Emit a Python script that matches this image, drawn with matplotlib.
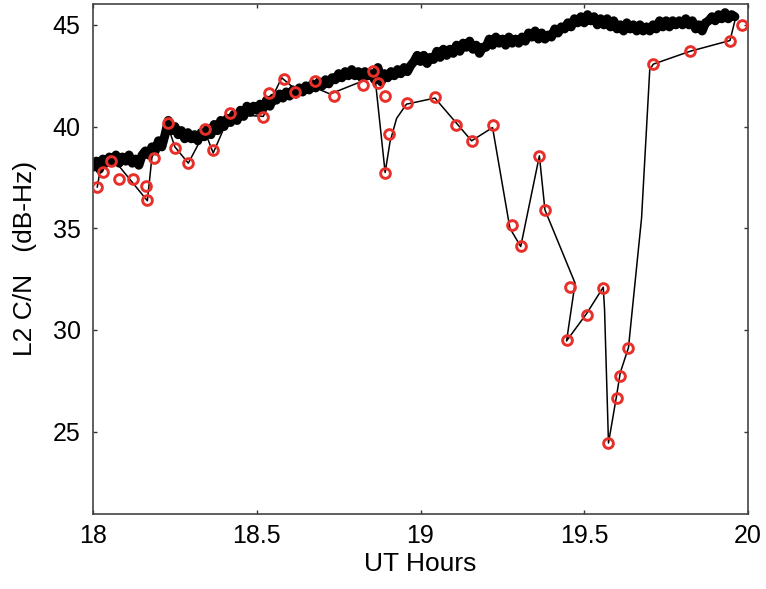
import numpy as np
import matplotlib
matplotlib.use("Agg")
import matplotlib.pyplot as plt

plt.rcParams['font.family'] = ['Liberation Sans', 'DejaVu Sans']

# Dense C/N record (black band), sampled every 0.01 h from 18.00 h
band_start, band_end = 18.00, 19.96
band_y = [
    38.0, 38.3, 37.9, 38.4, 38.2, 38.5, 38.3, 38.6, 38.2, 38.5,
    38.3, 38.6, 38.2, 38.4, 38.1, 38.6, 38.8, 38.6, 39.0, 38.8,
    39.3, 39.0, 39.6, 40.3, 39.8, 40.0, 39.6, 39.8, 39.4, 39.7,
    39.4, 39.6, 39.3, 39.7, 39.5, 39.9, 39.6, 40.1, 39.8, 40.3,
    40.0, 40.4, 40.2, 40.6, 40.3, 40.8, 40.5, 41.0, 40.7, 41.0,
    40.8, 41.1, 40.9, 41.3, 41.0, 41.4, 41.3, 41.6, 41.4, 41.7,
    41.5, 41.8, 41.6, 41.9, 41.7, 42.0, 41.8, 42.1, 41.9, 42.2,
    42.0, 42.3, 42.1, 42.4, 42.3, 42.6, 42.4, 42.7, 42.5, 42.8,
    42.5, 42.7, 42.4, 42.7, 42.5, 42.6, 42.3, 42.9, 42.2, 42.6,
    42.4, 42.7, 42.5, 42.8, 42.6, 42.9, 42.7, 43.0, 43.2, 43.5,
    43.2, 43.5, 43.1, 43.4, 43.3, 43.7, 43.4, 43.8, 43.5, 43.8,
    43.6, 44.0, 43.7, 44.1, 43.9, 44.2, 43.8, 44.0, 43.6, 43.9,
    43.9, 44.3, 44.0, 44.4, 44.1, 44.3, 44.0, 44.4, 44.1, 44.3,
    44.1, 44.4, 44.2, 44.6, 44.4, 44.7, 44.3, 44.6, 44.3, 44.5,
    44.4, 44.8, 44.6, 44.9, 44.8, 45.1, 44.9, 45.3, 45.1, 45.4,
    45.1, 45.5, 45.2, 45.4, 45.0, 45.3, 45.0, 45.3, 44.9, 45.2,
    44.8, 45.0, 44.7, 45.1, 44.8, 45.0, 44.7, 45.0, 44.7, 44.9,
    44.7, 45.0, 44.8, 45.2, 44.9, 45.2, 44.9, 45.2, 45.0, 45.2,
    45.0, 45.3, 45.0, 45.2, 44.8, 45.0, 44.7, 45.1, 45.2, 45.4,
    45.2, 45.5, 45.3, 45.6, 45.3, 45.5, 45.4,
]
band_x = np.linspace(band_start, band_end, len(band_y))

# Thin black trace (vertices)
trace_x = [18.013, 18.023, 18.052, 18.166, 18.180, 18.227, 18.250, 18.291,
           18.342, 18.367, 18.418, 18.520, 18.576, 18.620, 18.680, 18.724,
           18.825, 18.861, 18.892, 18.907, 18.927, 18.957, 19.044, 19.156,
           19.220, 19.273, 19.306, 19.363, 19.380, 19.472, 19.446, 19.507,
           19.558, 19.562, 19.574, 19.598, 19.610, 19.635, 19.675, 19.700,
           19.711, 19.823, 19.945, 19.963]
trace_y = [37.03, 37.94, 38.60, 36.35, 38.50, 40.10, 39.00, 38.20,
           39.75, 38.70, 40.60, 40.50, 42.40, 41.80, 41.90, 41.60,
           42.25, 42.43, 37.74, 39.25, 40.40, 41.10, 41.40, 39.30,
           39.95, 35.00, 34.10, 38.56, 35.90, 32.30, 29.46, 30.80,
           32.10, 31.00, 24.44, 26.70, 27.90, 29.13, 35.50, 42.80,
           43.07, 43.70, 44.23, 45.40]

# Red circle samples
circ_x = [18.013, 18.031, 18.054, 18.080, 18.123, 18.162, 18.166, 18.186,
          18.228, 18.250, 18.291, 18.342, 18.367, 18.418, 18.518, 18.538,
          18.583, 18.617, 18.678, 18.735, 18.823, 18.854, 18.871, 18.892,
          18.905, 18.892, 18.960, 19.044, 19.108, 19.156, 19.220, 19.278,
          19.306, 19.363, 19.380, 19.456, 19.446, 19.507, 19.558, 19.574,
          19.601, 19.609, 19.635, 19.711, 19.823, 19.945, 19.981]
circ_y = [37.03, 37.78, 38.30, 37.40, 37.40, 37.07, 36.38, 38.43,
          40.16, 38.96, 38.23, 39.86, 38.84, 40.65, 40.49, 41.64,
          42.33, 41.72, 42.25, 41.48, 42.05, 42.74, 42.14, 41.48,
          39.62, 37.74, 41.18, 41.43, 40.08, 39.29, 40.08, 35.14,
          34.12, 38.56, 35.89, 32.09, 29.49, 30.73, 32.04, 24.44,
          26.66, 27.73, 29.13, 43.07, 43.70, 44.23, 45.01]

xticks = [18, 18.5, 19, 19.5, 20]
xticklabels = ["18", "18.5", "19", "19.5", "20"]
yticks = [25, 30, 35, 40, 45]
yticklabels = ["25", "30", "35", "40", "45"]

fig = plt.figure(figsize=(7.66, 5.89), dpi=100)
ax = fig.add_axes([93/766, 1-514/589, (748-93)/766, (514-3.5)/589])

ax.plot(band_x, band_y, color='black', lw=6.5, solid_joinstyle='round',
        solid_capstyle='round', zorder=2)
ax.plot(trace_x, trace_y, color='black', lw=1.1, zorder=3)
ax.plot(circ_x, circ_y, linestyle='none', marker='o', ms=7, mfc='none',
        mec='#e8302a', mew=2.1, zorder=4)

ax.set_xlim(18, 20)
ax.set_ylim(20.95, 46.05)
ax.set_xticks(xticks)
ax.set_xticklabels(xticklabels)
ax.set_yticks(yticks)
ax.set_yticklabels(yticklabels)
ax.tick_params(direction='in', length=3, width=1, color='#333333',
               top=True, right=True, labelsize=18)
ax.tick_params(axis='x', pad=7)
ax.tick_params(axis='y', pad=9)
for s in ax.spines.values():
    s.set_color('#444444')
    s.set_linewidth(1.2)

ax.set_xlabel("UT Hours", fontsize=19, labelpad=3)
ax.set_ylabel("L2 C/N   (dB-Hz)", fontsize=19, labelpad=11)

fig.savefig("out.png", dpi=100)
